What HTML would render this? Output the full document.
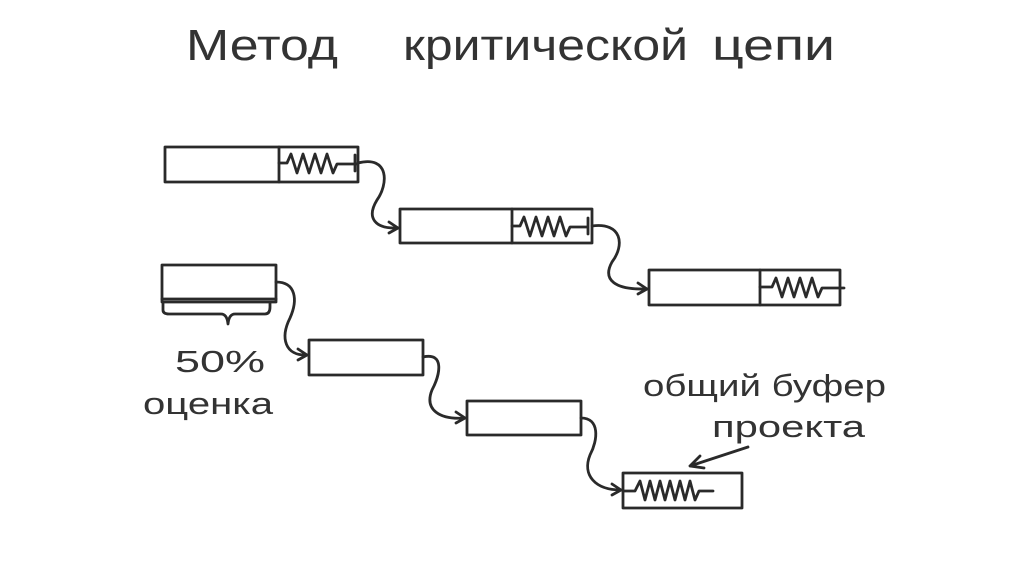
<!DOCTYPE html>
<html><head><meta charset="utf-8"><style>
body{margin:0;background:#fff;width:1024px;height:574px;overflow:hidden}
svg{display:block}
text{font-family:"Liberation Sans","DejaVu Sans",sans-serif;fill:#333}
</style></head><body>
<svg width="1024" height="574" viewBox="0 0 1024 574" stroke="#2a2a2a" stroke-width="2.8" fill="none" stroke-linecap="round" stroke-linejoin="round">
<g stroke="none" font-size="44">
<text x="186" y="60" textLength="152" lengthAdjust="spacingAndGlyphs">Метод</text>
<text x="403" y="60" textLength="285" lengthAdjust="spacingAndGlyphs">критической</text>
<text x="712" y="60" textLength="123" lengthAdjust="spacingAndGlyphs">цепи</text>
</g>
<!-- row1 boxes -->
<rect x="165" y="147" width="193" height="35"/><line x1="279" y1="147" x2="279" y2="182"/>
<path d="M279,163 h8 l4,-9 l6,19 l6,-19 l6,19 l6,-19 l6,19 l6,-19 l6,19 l4,-9 h20 M355,155 v16"/>
<rect x="400" y="209" width="192" height="34"/><line x1="512" y1="209" x2="512" y2="243"/>
<path d="M512,226 h8 l4,-9 l6,19 l6,-19 l6,19 l6,-19 l6,19 l6,-19 l6,19 l4,-9 h18 M588,218 v16"/>
<rect x="649" y="270" width="191" height="35"/><line x1="760" y1="270" x2="760" y2="305"/>
<path d="M760,287 h12 l4,-9 l6,19 l6,-19 l6,19 l6,-19 l6,19 l6,-19 l6,19 l4,-9 h22"/>
<!-- row2 -->
<rect x="162" y="265" width="114" height="37"/><line x1="162" y1="299" x2="276" y2="299"/>
<path d="M163,303 v7 q0,4 6,4 h52 q6,0 7,10 q1,-10 7,-10 h30 q5,0 5,-7 v-4"/>
<rect x="309" y="340" width="114" height="35"/>
<rect x="467" y="401" width="114" height="34"/>
<rect x="623" y="473" width="119" height="35"/>
<path d="M623,491 h12 l5,-10 l5,19 l5,-19 l5,19 l5,-19 l5,19 l5,-19 l5,19 l5,-19 l5,19 l5,-19 l5,19 l4,-9 h14"/>
<!-- connectors -->
<g>
<path d="M358,163 C390,155 388,185 377,200 C366,218 375,229 398,228"/><path d="M389,222 l9,6 l-9,5"/>
<path d="M592,226 C622,222 625,245 612,262 C602,280 615,290 647,289"/><path d="M638,283 l9,6 l-9,5"/>
<path d="M276,282 C296,282 298,300 290,318 C280,338 285,356 307,355"/><path d="M298,349 l9,6 l-9,5"/>
<path d="M423,357 C445,352 440,375 432,390 C424,410 440,420 465,418"/><path d="M456,412 l9,6 l-9,5"/>
<path d="M581,418 C600,418 598,440 590,455 C582,475 595,490 621,490"/><path d="M612,484 l9,6 l-9,5"/>
<path d="M748,447 L690,466 M700,456 l-10,10 l14,2"/>
</g>
<g stroke="none" font-size="31">
<text x="175" y="372" textLength="90" lengthAdjust="spacingAndGlyphs">50%</text>
<text x="143" y="414" textLength="130" lengthAdjust="spacingAndGlyphs">оценка</text>
<text x="643" y="396" textLength="243" lengthAdjust="spacingAndGlyphs">общий буфер</text>
<text x="712" y="437" textLength="153" lengthAdjust="spacingAndGlyphs">проекта</text>
</g>
</svg>
</body></html>
